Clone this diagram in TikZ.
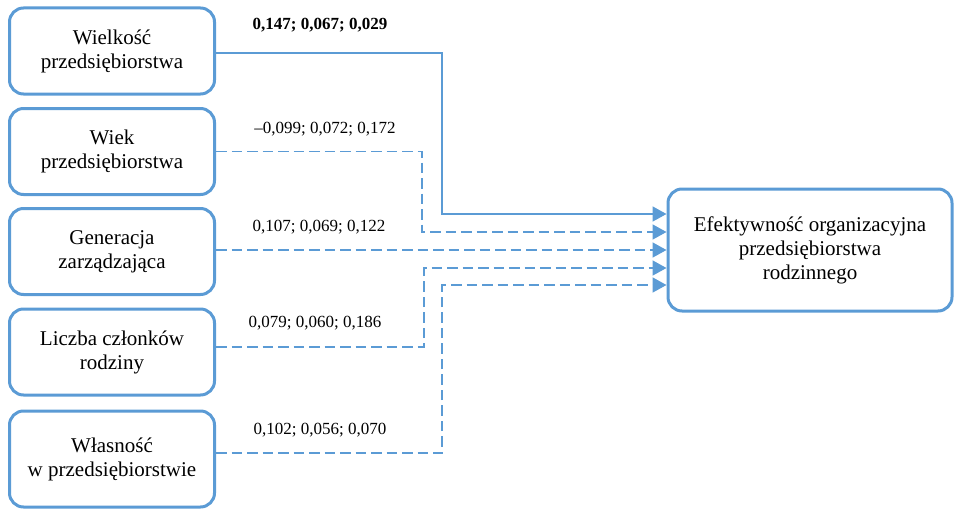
\documentclass[tikz,border=0pt]{standalone}
\usepackage{fontspec}
\setmainfont{Liberation Serif}
\usetikzlibrary{arrows.meta}
\definecolor{boxblue}{HTML}{5B9BD5}
\tikzset{
  factor/.style={draw=boxblue, line width=3pt, rounded corners=14pt, fill=white,
    align=center, minimum width=205pt, minimum height=86pt, inner sep=2pt,
    font=\fontsize{21}{24}\selectfont},
  outcome/.style={factor, minimum width=284pt, minimum height=122pt},
  conn/.style={draw=boxblue, line width=1.8pt,
    -{Triangle[length=14pt,width=15pt]}},
  weak/.style={conn, dash pattern=on 10.5pt off 5pt},
  coef/.style={font=\fontsize{17}{20}\selectfont, inner sep=0pt}
}
\begin{document}
\begin{tikzpicture}[x=1pt, y=-1pt]
  \useasboundingbox (0,0) rectangle (955,511);

  % explanatory factors
  \node[factor] (b1) at (112,51)  {Wielkość\\przedsiębiorstwa};
  \node[factor] (b2) at (112,151.5) {Wiek\\przedsiębiorstwa};
  \node[factor] (b3) at (112,251.5) {Generacja\\zarządzająca};
  \node[factor] (b4) at (112,352) {Liczba członków\\rodziny};
  \node[factor, minimum height=96pt] (b5) at (112,459) {Własność\\w przedsiębiorstwie};

  % outcome
  \node[outcome] (t) at (810,250) {Efektywność organizacyjna\\przedsiębiorstwa\\rodzinnego};

  % entry points on the outcome box
  \coordinate (e1) at ([yshift=36pt]t.west);
  \coordinate (e2) at ([yshift=18pt]t.west);
  \coordinate (e3) at (t.west);
  \coordinate (e4) at ([yshift=-18pt]t.west);
  \coordinate (e5) at ([yshift=-35pt]t.west);

  % start points on the factor boxes
  \coordinate (s1) at ([yshift=-2pt]b1.east);
  \coordinate (s2) at (b2.east);
  \coordinate (s3) at ([yshift=1.5pt]b3.east);
  \coordinate (s4) at ([yshift=5pt]b4.east);
  \coordinate (s5) at ([yshift=6pt]b5.east);

  % vertical runs
  \coordinate (v1) at (442,0);
  \coordinate (v2) at (422,0);
  \coordinate (v4) at (424,0);
  \coordinate (v5) at (442,0);

  % connectors
  \draw[conn] (s1) -- (s1 -| v1) -- (v1 |- e1) -- (e1);
  \draw[weak] (s2) -- (s2 -| v2) -- (v2 |- e2) -- (e2);
  \draw[weak] (s3) -- (e3);
  \draw[weak] (s4) -- (s4 -| v4) -- (v4 |- e4) -- (e4);
  \draw[weak] (s5) -- (s5 -| v5) -- (v5 |- e5) -- (e5);

  % coefficients
  \node[coef, font=\fontsize{17}{20}\selectfont\bfseries] (c1) at (320,25) {0,147; 0,067; 0,029};
  \node[coef] (c2) at (325,129) {–0,099; 0,072; 0,172};
  \node[coef] (c3) at (319,227) {0,107; 0,069; 0,122};
  \node[coef] (c4) at (315,323) {0,079; 0,060; 0,186};
  \node[coef] (c5) at (320,430) {0,102; 0,056; 0,070};
\end{tikzpicture}
\end{document}
